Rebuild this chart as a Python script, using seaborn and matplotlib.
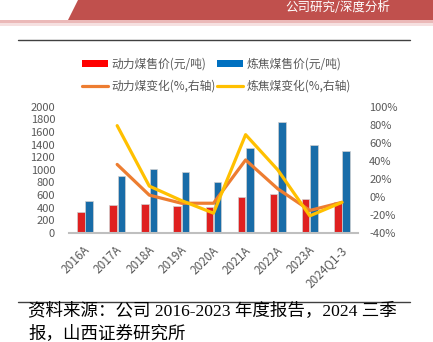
import numpy as np
import pandas as pd
import matplotlib
matplotlib.use("Agg")
import matplotlib.pyplot as plt
import seaborn as sns
from matplotlib.patches import Polygon, Rectangle, Patch
from matplotlib.lines import Line2D
from matplotlib.ticker import FuncFormatter
from matplotlib.transforms import ScaledTranslation

# ---------------- data ----------------
categories = ["2016A", "2017A", "2018A", "2019A", "2020A", "2021A", "2022A", "2023A", "2024Q1-3"]
thermal_price = [330, 450, 455, 430, 405, 567, 614, 535, 487]
coking_price = [503, 900, 1006, 968, 800, 1349, 1752, 1387, 1302]
thermal_chg = [np.nan, 36, 2, -7, -7, 41, 9, -15, -6]
coking_chg = [np.nan, 79, 12, -4, -18, 69, 30, -21, -6]

bar_names = ["动力煤售价(元/吨)", "炼焦煤售价(元/吨)"]
line_names = ["动力煤变化(%,右轴)", "炼焦煤变化(%,右轴)"]
left_ticks = list(range(0, 2001, 200))
right_ticks = list(range(-40, 101, 20))

RED = "#FF0000"
BLUE = "#0070C0"
ORANGE = "#ED7D31"
YELLOW = "#FFC000"
GRAY = "#595959"

sns.set_theme(style="white")
plt.rcParams["font.family"] = ["Noto Sans CJK SC", "DejaVu Sans"]
plt.rcParams["axes.unicode_minus"] = False

W, H = 433, 342
fig = plt.figure(figsize=(W / 100, H / 100), dpi=100)
fig.patch.set_facecolor("white")

# ------------- background decorations (pixel coords) -------------
bg = fig.add_axes([0, 0, 1, 1], zorder=-10)
bg.set_xlim(0, W)
bg.set_ylim(H, 0)
bg.axis("off")
bg.add_patch(Polygon([(78, 0), (W, 0), (W, 20), (68, 20)], closed=True,
                     facecolor="#C0504D", edgecolor="none"))
bg.add_patch(Rectangle((0, 20), W, 3, facecolor="#EBB9B8", edgecolor="none"))
bg.add_patch(Rectangle((0, 23), W, 3, facecolor="#F6E0E0", edgecolor="none"))
bg.text(338, 7.5, "公司研究/深度分析", color="white", fontsize=9,
        ha="center", va="center")
bg.plot([18, 410], [40, 40], color="#404040", lw=1.0)
bg.plot([18, 410], [302, 302], color="#404040", lw=1.0)
src_family = ["Liberation Serif", "Noto Sans CJK SC"]
bg.text(28, 312, "资料来源：公司 2016-2023 年度报告，2024 三季", fontsize=12.6,
        va="center", ha="left", color="black", family=src_family)
bg.text(28, 334, "报，山西证券研究所", fontsize=12.6,
        va="center", ha="left", color="black", family=src_family)

# ------------- main axes -------------
ax = fig.add_axes([69 / W, 1 - 233 / H, 289 / W, 126.3 / H])
df = pd.DataFrame({
    "cat": categories * 2,
    "series": [bar_names[0]] * len(categories) + [bar_names[1]] * len(categories),
    "value": thermal_price + coking_price,
})
sns.barplot(data=df, x="cat", y="value", hue="series", order=categories,
            hue_order=bar_names, palette=[RED, BLUE], width=0.52, gap=0.1,
            edgecolor="#D0D0D0", linewidth=0.5, ax=ax, legend=False)
ax.set_ylim(0, 2000)
ax.set_yticks(left_ticks)
ax.set_xlabel("")
ax.set_ylabel("")
for s in ["left", "right", "top"]:
    ax.spines[s].set_visible(False)
ax.spines["bottom"].set_color("#BFBFBF")
ax.spines["bottom"].set_linewidth(1.5)
ax.tick_params(axis="y", length=0, pad=10, labelsize=8, labelcolor=GRAY)
ax.tick_params(axis="x", length=0, pad=11, labelsize=8.5, labelcolor=GRAY)
shift = ScaledTranslation(3 / 100, 0, fig.dpi_scale_trans)
for lbl in ax.get_xticklabels():
    lbl.set_rotation(45)
    lbl.set_ha("right")
    lbl.set_va("center")
    lbl.set_rotation_mode("anchor")
    lbl.set_transform(lbl.get_transform() + shift)

ax2 = ax.twinx()
xpos = np.arange(len(categories))
sns.lineplot(x=xpos[1:], y=thermal_chg[1:], color=ORANGE, lw=2.3, ax=ax2)
sns.lineplot(x=xpos[1:], y=coking_chg[1:], color=YELLOW, lw=2.3, ax=ax2)
ax2.set_ylim(-40, 100)
ax2.set_yticks(right_ticks)
ax2.yaxis.set_major_formatter(FuncFormatter(lambda v, p: f"{v:.0f}%"))
for s in ["left", "right", "top", "bottom"]:
    ax2.spines[s].set_visible(False)
ax2.tick_params(axis="y", length=0, pad=8, labelsize=8, labelcolor=GRAY)
ax2.set_ylabel("")
ax.set_xlim(-0.5, len(categories) - 0.5)

# ------------- legend -------------
handles = [
    Patch(facecolor=RED, edgecolor="none"),
    Line2D([0], [0], color=ORANGE, lw=2.3),
    Patch(facecolor=BLUE, edgecolor="none"),
    Line2D([0], [0], color=YELLOW, lw=2.3),
]
labels = [bar_names[0], line_names[0], bar_names[1], line_names[1]]
fig.legend(handles, labels, ncol=2, loc="upper left",
           bbox_to_anchor=(82 / W, 1 - 58 / H), frameon=False,
           fontsize=8.5, labelcolor=GRAY, handlelength=2.2, handleheight=0.5,
           handletextpad=0.3, columnspacing=0.1, labelspacing=0.75,
           borderpad=0, borderaxespad=0)

fig.savefig("out.png", dpi=100)
